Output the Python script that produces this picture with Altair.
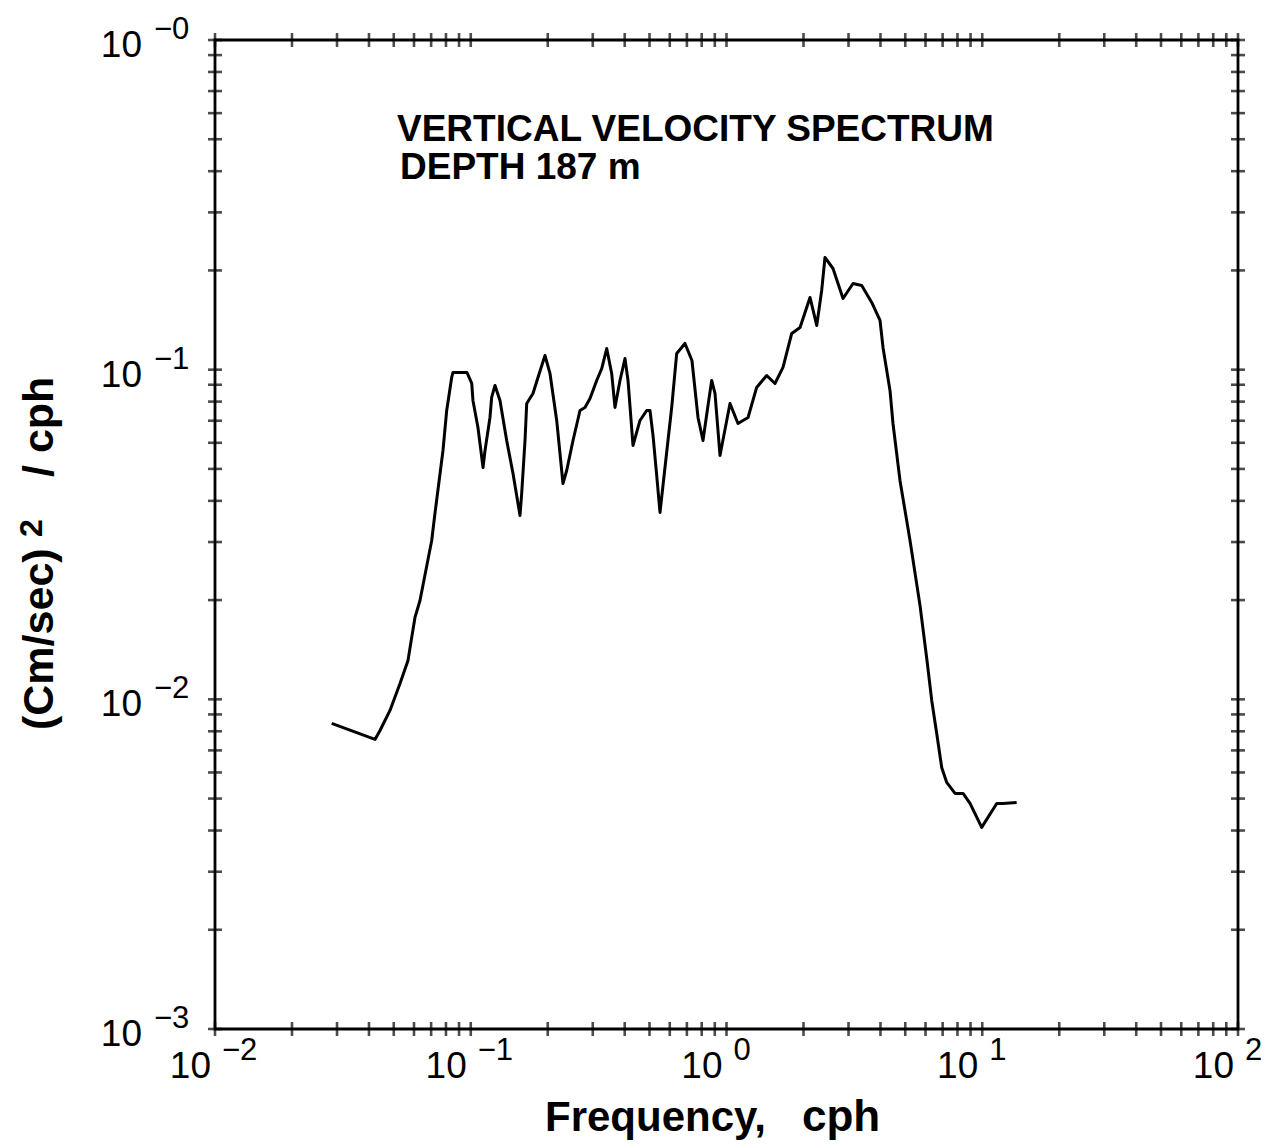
import altair as alt
import pandas as pd

# ---- data (frequency in cph, spectral density) ----
freq_cph = [0.02859, 0.04223, 0.04418, 0.04833, 0.05290, 0.05684, 0.05876, 0.06053,
            0.06332, 0.07036, 0.07246, 0.07788, 0.08053, 0.08423, 0.08521, 0.09667,
            0.1009, 0.1020, 0.1067, 0.1117, 0.1137, 0.1189, 0.1207, 0.1244, 0.1301,
            0.1382, 0.1463, 0.1558, 0.1582, 0.1630, 0.1655, 0.1751, 0.1832, 0.1951,
            0.2041, 0.2168, 0.2294, 0.2372, 0.2511, 0.2674, 0.2797, 0.2926, 0.3108,
            0.3252, 0.3401, 0.3557, 0.3664, 0.3833, 0.4010, 0.4120, 0.4309, 0.4589,
            0.4875, 0.5022, 0.5160, 0.5334, 0.5495, 0.5645, 0.5905, 0.6105, 0.6387,
            0.6881, 0.7327, 0.7737, 0.8093, 0.8466, 0.8751, 0.9016, 0.9432, 1.032,
            1.109, 1.214, 1.312, 1.436, 1.547, 1.663, 1.799, 1.939, 2.121, 2.253,
            2.356, 2.427, 2.609, 2.855, 3.124, 3.378, 3.697, 3.984, 4.092, 4.358,
            4.477, 4.768, 5.219, 5.710, 6.081, 6.345, 6.637, 6.942, 7.262, 7.827,
            8.411, 8.958, 9.950, 11.39, 12.05, 13.63]
spectrum = [0.00845, 0.007556, 0.008045, 0.009254, 0.01117, 0.01312, 0.01541, 0.01772,
            0.01995, 0.03033, 0.03664, 0.05686, 0.0752, 0.0947, 0.09806, 0.09806,
            0.09081, 0.08066, 0.06677, 0.05051, 0.05686, 0.07161, 0.08236, 0.08956, 0.08066,
            0.06098, 0.04842, 0.03613, 0.04212, 0.06098, 0.07898, 0.0847, 0.0947, 0.1104,
            0.09738, 0.07013, 0.04516, 0.04945, 0.06098, 0.0752, 0.0768, 0.08178, 0.09273,
            0.1008, 0.1159, 0.09738, 0.0768, 0.09273, 0.1081, 0.09273, 0.05889, 0.07013,
            0.0752, 0.0752, 0.06317, 0.04776, 0.03688, 0.04453, 0.06098, 0.0768, 0.112,
            0.1201, 0.1066, 0.07161, 0.06098, 0.07786, 0.09273, 0.0847, 0.05492, 0.07898,
            0.06866, 0.07161, 0.08832, 0.09603, 0.09081, 0.1016, 0.1288, 0.1343, 0.1656, 0.1362,
            0.1739, 0.2189, 0.2027, 0.1644, 0.1826, 0.18, 0.1599, 0.141, 0.1168, 0.08648,
            0.06866, 0.04613, 0.03033, 0.01927, 0.01312, 0.009924, 0.007878, 0.006214, 0.005597, 0.005183,
            0.005183, 0.004833, 0.004088, 0.004833, 0.004833, 0.004868]

# ---- axis decades, exponents and texts ----
x_decades = [0.01, 0.1, 1, 10, 100]
x_exponents = ["\u22122", "\u22121", "0", "1", "2"]
y_decades = [0.001, 0.01, 0.1, 1]
y_exponents = ["\u22123", "\u22122", "\u22121", "\u22120"]
mantissas = [1, 2, 3, 4, 5, 6, 7, 8, 9]
annotation_lines = ["VERTICAL VELOCITY SPECTRUM", "DEPTH 187 m"]
x_title_parts = ["Frequency,", "cph"]
y_title_parts = ["(Cm/sec)", "2", "/  cph"]

W, H = 1023, 989
FONT = "Liberation Sans"

x_ticks = [m * d for d in x_decades[:-1] for m in mantissas] + [x_decades[-1]]
y_ticks = [m * d for d in y_decades[:-1] for m in mantissas] + [y_decades[-1]]

xs = alt.Scale(type="log", domain=[0.01, 100], nice=False)
ys = alt.Scale(type="log", domain=[0.001, 1], nice=False)

curve_df = pd.DataFrame({"f": freq_cph, "s": spectrum})
xt_df = pd.DataFrame({"v": x_ticks})
yt_df = pd.DataFrame({"v": y_ticks})
xl_df = pd.DataFrame({"v": x_decades, "base": ["10"] * len(x_decades), "exp": x_exponents})
yl_df = pd.DataFrame({"v": y_decades, "base": ["10"] * len(y_decades), "exp": y_exponents})
one = pd.DataFrame({"k": [0]})

curve = alt.Chart(curve_df).mark_line(color="black", strokeWidth=3, strokeJoin="round").encode(
    x=alt.X("f:Q", scale=xs, axis=None),
    y=alt.Y("s:Q", scale=ys, axis=None),
)

tick_style = dict(color="black", size=14, thickness=2.6)
xt_bottom = alt.Chart(xt_df).mark_tick(orient="vertical", **tick_style).encode(
    x=alt.X("v:Q", scale=xs, axis=None), y=alt.value(H))
xt_top = alt.Chart(xt_df).mark_tick(orient="vertical", **tick_style).encode(
    x=alt.X("v:Q", scale=xs, axis=None), y=alt.value(0))
yt_left = alt.Chart(yt_df).mark_tick(orient="horizontal", **tick_style).encode(
    y=alt.Y("v:Q", scale=ys, axis=None), x=alt.value(0))
yt_right = alt.Chart(yt_df).mark_tick(orient="horizontal", **tick_style).encode(
    y=alt.Y("v:Q", scale=ys, axis=None), x=alt.value(W))

xl_base = alt.Chart(xl_df).mark_text(font=FONT, fontSize=37, align="right", baseline="middle",
                                     dx=-4, color="black").encode(
    x=alt.X("v:Q", scale=xs, axis=None), y=alt.value(H + 38), text="base:N")
xl_exp = alt.Chart(xl_df).mark_text(font=FONT, fontSize=31, align="left", baseline="middle",
                                    dx=7, color="black").encode(
    x=alt.X("v:Q", scale=xs, axis=None), y=alt.value(H + 22), text="exp:N")

yl_base = alt.Chart(yl_df).mark_text(font=FONT, fontSize=37, align="right", baseline="middle",
                                     dy=6, color="black").encode(
    y=alt.Y("v:Q", scale=ys, axis=None), x=alt.value(-73), text="base:N")
yl_exp = alt.Chart(yl_df).mark_text(font=FONT, fontSize=31, align="left", baseline="middle",
                                    dy=-10, color="black").encode(
    y=alt.Y("v:Q", scale=ys, axis=None), x=alt.value(-61), text="exp:N")

ann1 = alt.Chart(one).mark_text(font=FONT, fontSize=37, fontWeight="bold", align="left",
                                baseline="middle", color="black", text=annotation_lines[0]).encode(
    x=alt.value(182), y=alt.value(90))
ann2 = alt.Chart(one).mark_text(font=FONT, fontSize=37, fontWeight="bold", align="left",
                                baseline="middle", color="black", text=annotation_lines[1]).encode(
    x=alt.value(185), y=alt.value(128))

xt1 = alt.Chart(one).mark_text(font=FONT, fontSize=42, fontWeight="bold", align="left",
                               baseline="middle", color="black", text=x_title_parts[0]).encode(
    x=alt.value(330), y=alt.value(H + 89))
xt2 = alt.Chart(one).mark_text(font=FONT, fontSize=44, fontWeight="bold", align="left",
                               baseline="middle", color="black", text=x_title_parts[1]).encode(
    x=alt.value(587), y=alt.value(H + 89))

yt1 = alt.Chart(one).mark_text(font=FONT, fontSize=43, fontWeight="bold", align="left",
                               baseline="middle", angle=270, color="black",
                               text=y_title_parts[0]).encode(
    x=alt.value(-175), y=alt.value(690))
yt2 = alt.Chart(one).mark_text(font=FONT, fontSize=32, fontWeight="bold", align="left",
                               baseline="middle", angle=270, color="black",
                               text=y_title_parts[1]).encode(
    x=alt.value(-183), y=alt.value(497))
yt3 = alt.Chart(one).mark_text(font=FONT, fontSize=43, fontWeight="bold", align="left",
                               baseline="middle", angle=270, color="black",
                               text=y_title_parts[2]).encode(
    x=alt.value(-175), y=alt.value(437))

chart = alt.layer(
    curve, xt_bottom, xt_top, yt_left, yt_right,
    xl_base, xl_exp, yl_base, yl_exp, ann1, ann2, xt1, xt2, yt1, yt2, yt3,
).properties(
    width=W, height=H,
    autosize=alt.AutoSizeParams(type="none"),
    padding={"left": 215, "top": 40, "right": 38, "bottom": 119},
    background="white",
).configure_view(stroke="black", strokeWidth=2.8)

chart.save("out.html", embed_options={"renderer": "svg", "actions": False})
